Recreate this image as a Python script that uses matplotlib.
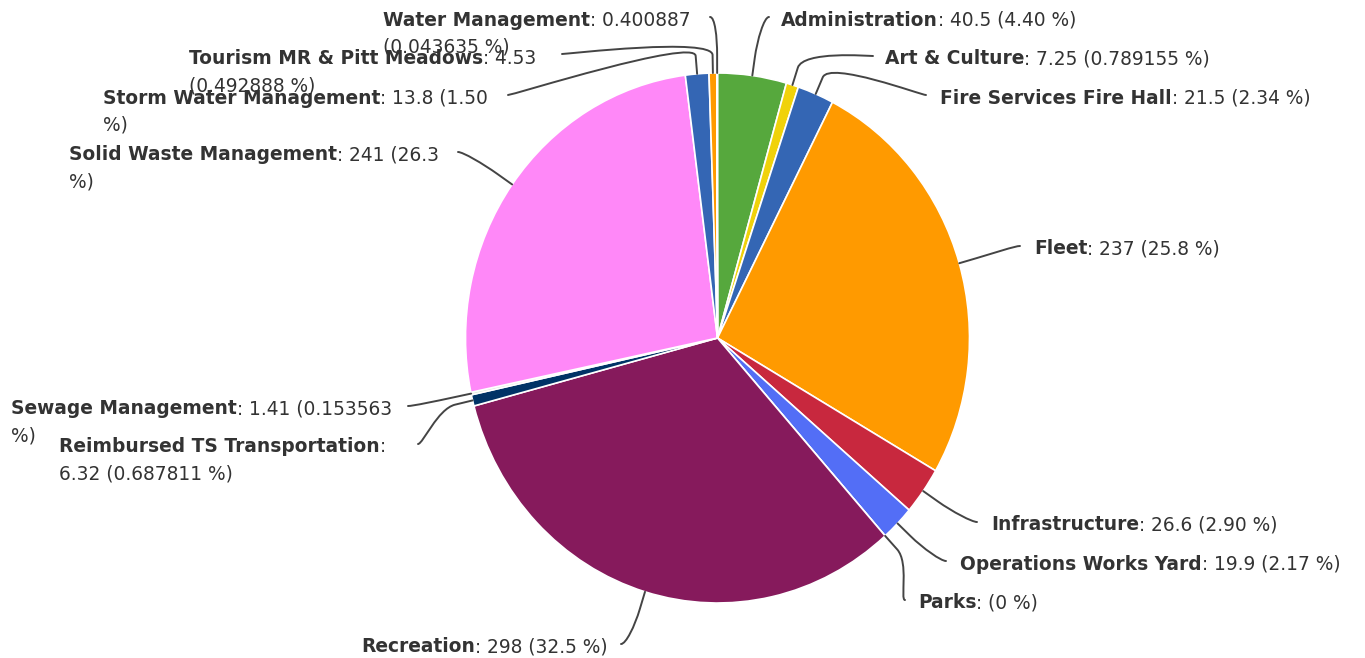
import numpy as np
import matplotlib.pyplot as plt
from matplotlib.path import Path
from matplotlib.patches import PathPatch

# -------------------------------
# DATA
# -------------------------------
names = ["Administration", "Art & Culture", "Fire Services Fire Hall", "Fleet",
         "Infrastructure", "Operations Works Yard", "Parks", "Recreation",
         "Reimbursed TS Transportation", "Sewage Management",
         "Solid Waste Management", "Storm Water Management",
         "Tourism MR & Pitt Meadows", "Water Management"]
values = [40.5, 7.25, 21.5, 237, 26.6, 19.9, 0, 298, 6.32, 1.41, 241, 13.8, 4.53, 0.400887]
value_text = ["40.5", "7.25", "21.5", "237", "26.6", "19.9", "", "298", "6.32", "1.41",
              "241", "13.8", "4.53", "0.400887"]
pct_text = ["4.40", "0.789155", "2.34", "25.8", "2.90", "2.17", "0", "32.5", "0.687811",
            "0.153563", "26.3", "1.50", "0.492888", "0.043635"]
colors = ["#56a83d", "#f0d20a", "#3466b4", "#ff9a00", "#c8283e", "#536ef6", "#7cb5ec",
          "#861a5c", "#003366", "#dbe9d8", "#ff88f8", "#3466b4", "#ff9a00", "#55bf3b"]

# part of each label that wraps to a second line
wrap_tail = ["", "", "", "", "", "", "", "", "6.32 (0.687811 %)", "%)", "%)", "%)",
             "(0.492888 %)", "(0.043635 %)"]

# -------------------------------
# LAYOUT (pixels)
# -------------------------------
W, H = 1365, 658
cx, cy, rx, ry = 717.5, 338, 252, 265
label_pos = [(781, 20), (885, 59), (940, 98), (1034, 249), (991, 525), (960, 564),
             (918, 603), (361, 647), (59, 447), (11, 409), (69, 155), (103, 98),
             (189, 59), (383, 20)]
anchor_pos = [(769, 17), (873, 56), (926, 95), (1020, 246), (977, 522), (946, 561),
              (905, 600), (621, 644), (418, 444), (408, 406), (458, 152), (508, 95),
              (562, 54), (710, 17)]
right_side = [True] * 7 + [False] * 7
TXT = "#333333"
FS = 13.4

fig = plt.figure(figsize=(W / 100, H / 100), dpi=100)
fig.patch.set_facecolor("white")

# pie axes (slightly taller than wide, like the reference)
pax = fig.add_axes([(cx - rx) / W, (H - cy - ry) / H, 2 * rx / W, 2 * ry / H])
pax.pie(values, colors=colors, startangle=90, counterclock=False, radius=1,
        wedgeprops=dict(edgecolor="white", linewidth=1.2))
pax.set_aspect("auto")
pax.set_xlim(-1, 1)
pax.set_ylim(-1, 1)
pax.axis("off")

# overlay in pixel coords for labels and connectors
ax = fig.add_axes([0, 0, 1, 1])
ax.set_xlim(0, W)
ax.set_ylim(H, 0)
ax.axis("off")

total = float(np.sum(values))
cum = np.cumsum([0] + values[:-1]) / total
mids = (cum + np.array(values) / total / 2) * 2 * np.pi

for i, name in enumerate(names):
    # connector
    th = mids[i]
    tx, ty = cx + rx * np.sin(th), cy - ry * np.cos(th)
    bx, by = cx + (rx + 18) * np.sin(th), cy - (ry + 18) * np.cos(th)
    lx, ly = anchor_pos[i]
    dx = -5 if right_side[i] else 5
    verts = [(lx, ly), (lx + dx, ly), (2 * bx - tx, 2 * by - ty), (bx, by), (tx, ty)]
    codes = [Path.MOVETO, Path.CURVE4, Path.CURVE4, Path.CURVE4, Path.LINETO]
    ax.add_patch(PathPatch(Path(verts, codes), facecolor="none", edgecolor="#444444",
                           linewidth=1.4, capstyle="round"))

    # label
    parts = [p for p in [value_text[i], "(" + pct_text[i] + " %)"] if p]
    rest = ": " + " ".join(parts)
    tail = wrap_tail[i]
    first = rest[:len(rest) - len(tail)].rstrip() if tail else rest
    x, y = label_pos[i]
    t = ax.text(x, y, name, fontsize=FS, fontweight="bold", color=TXT,
                va="center", ha="left")
    ax.annotate(first, xy=(1, 0), xycoords=t, va="bottom", ha="left",
                fontsize=FS, color=TXT)
    if tail:
        ax.text(x, y + 27, tail, fontsize=FS, color=TXT, va="center", ha="left")

fig.savefig("out.png", dpi=100, facecolor="white")
